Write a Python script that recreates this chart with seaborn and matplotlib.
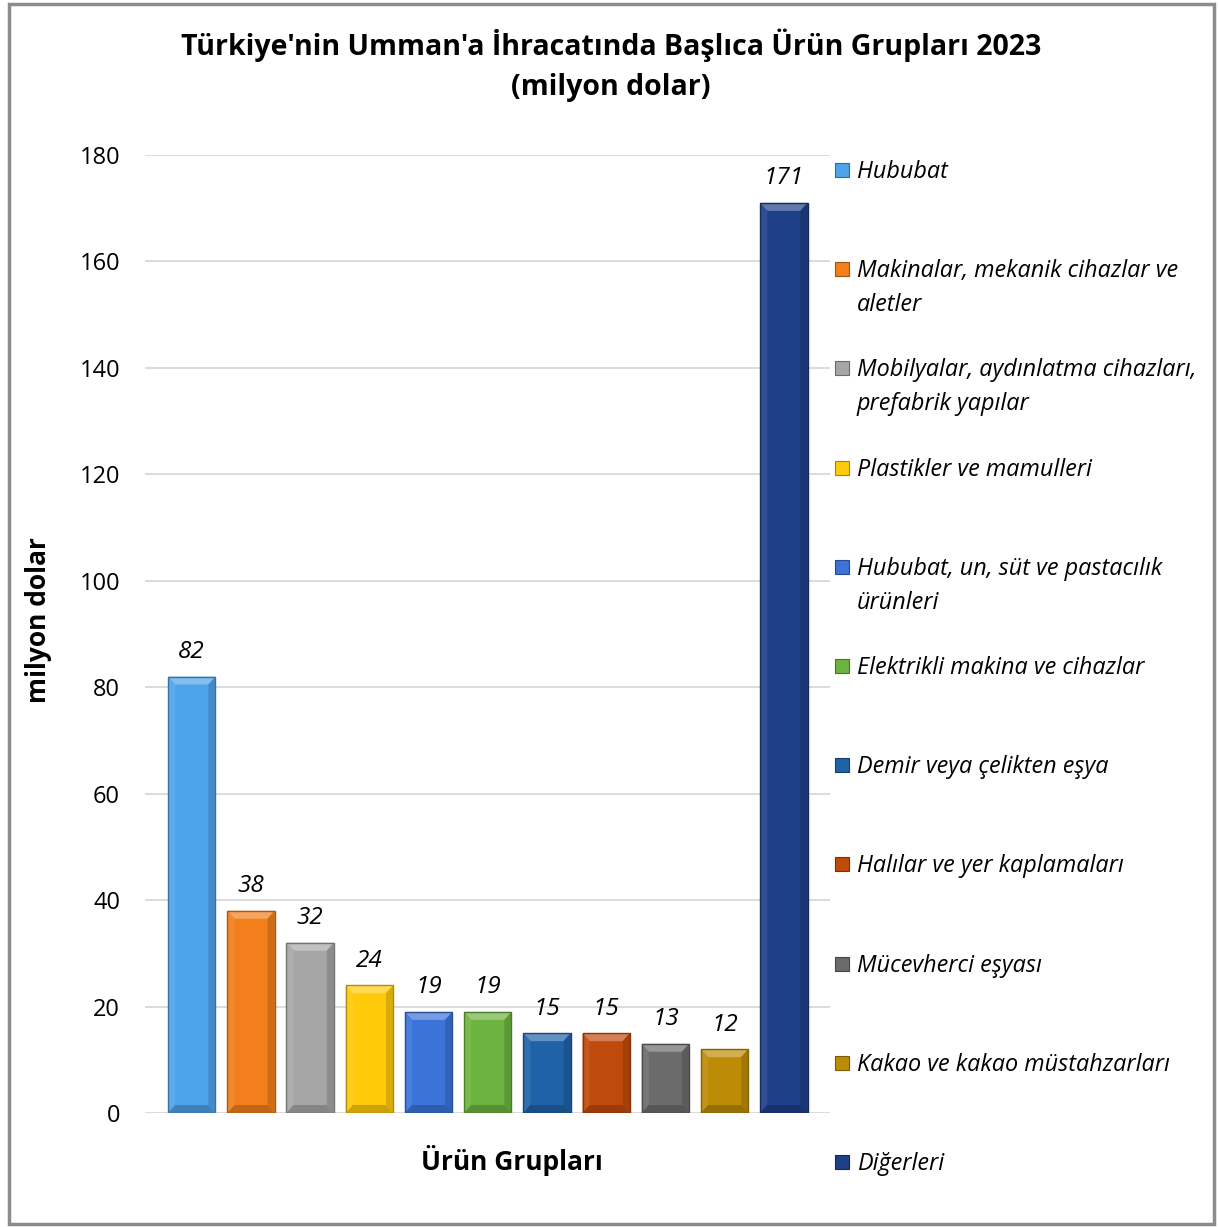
import numpy as np
import pandas as pd
import seaborn as sns
import matplotlib.pyplot as plt
from matplotlib.patches import Polygon, Rectangle
from matplotlib.colors import to_rgb

# data
groups = ["Hububat",
          "Makinalar, mekanik cihazlar ve\naletler",
          "Mobilyalar, aydınlatma cihazları,\nprefabrik yapılar",
          "Plastikler ve mamulleri",
          "Hububat, un, süt ve pastacılık\nürünleri",
          "Elektrikli makina ve cihazlar",
          "Demir veya çelikten eşya",
          "Halılar ve yer kaplamaları",
          "Mücevherci eşyası",
          "Kakao ve kakao müstahzarları",
          "Diğerleri"]
values = [82, 38, 32, 24, 19, 19, 15, 15, 13, 12, 171]
colors = ["#4FA3EA", "#F27F1B", "#A6A6A6", "#FFCA0A", "#3B73D9", "#6DB33F",
          "#1F62A8", "#C04A0B", "#6B6B6B", "#BD8C06", "#1F3F88"]
yticks = list(range(0, 181, 20))

title = "Türkiye'nin Umman'a İhracatında Başlıca Ürün Grupları 2023\n(milyon dolar)"

sns.set_theme(style="white")
plt.rcParams['font.family'] = ['Open Sans', 'DejaVu Sans']
plt.rcParams['text.color'] = 'black'
plt.rcParams['axes.labelcolor'] = 'black'
plt.rcParams['ytick.color'] = 'black'

df = pd.DataFrame({"grup": groups, "deger": values})

fig = plt.figure(figsize=(12.19, 12.27), dpi=100)
ax = fig.add_axes([145/1219, 1 - 1113/1227, 685/1219, 958/1227])

sns.barplot(data=df, x="grup", y="deger", hue="grup", palette=colors,
            saturation=1, dodge=False, legend=False, width=0.8, ax=ax, zorder=3)


def shade(c, f):
    r = np.array(to_rgb(c))
    if f > 0:
        return tuple(r + (1 - r) * f)
    return tuple(r * (1 + f))


# bevel look on the bars
dx, dy = 0.12, 1.5
for p, c in zip(ax.patches, colors):
    x0, w, h = p.get_x(), p.get_width(), p.get_height()
    p.set_edgecolor("none")
    top = [(x0, h), (x0 + w, h), (x0 + w - dx, h - dy), (x0 + dx, h - dy)]
    left = [(x0, 0), (x0, h), (x0 + dx, h - dy), (x0 + dx, dy)]
    right = [(x0 + w, 0), (x0 + w, h), (x0 + w - dx, h - dy), (x0 + w - dx, dy)]
    bottom = [(x0, 0), (x0 + w, 0), (x0 + w - dx, dy), (x0 + dx, dy)]
    ax.add_patch(Polygon(top, closed=True, fc=shade(c, 0.3), ec="none", zorder=4))
    ax.add_patch(Polygon(left, closed=True, fc=shade(c, 0.08), ec="none", zorder=4))
    ax.add_patch(Polygon(right, closed=True, fc=shade(c, -0.15), ec="none", zorder=4))
    ax.add_patch(Polygon(bottom, closed=True, fc=shade(c, -0.2), ec="none", zorder=4))
    ax.add_patch(Rectangle((x0, 0), w, h, fc="none", ec=shade(c, -0.3), lw=1.0, zorder=5))

for i, v in enumerate(values):
    ax.annotate(str(v), (i, v), xytext=(0, 9), textcoords="offset points",
                ha="center", va="bottom", fontsize=17.5, style="italic", color="black")

ax.set_ylim(0, 180)
ax.set_xlim(-0.79, len(values) - 0.22)
ax.set_yticks(yticks)
ax.tick_params(axis="y", labelsize=17, length=0, pad=18)
ax.set_xticks([])
ax.grid(axis="y", color="#D9D9D9", lw=1.3, zorder=0)
for s in ax.spines.values():
    s.set_visible(False)

ax.set_ylabel("milyon dolar", fontsize=19, fontweight="bold")
ax.yaxis.set_label_coords(-(145 - 38) / 685, (1113 - 620) / 958)
ax.yaxis.label.set_va("center")
ax.set_xlabel("Ürün Grupları", fontsize=19, fontweight="bold")
ax.xaxis.set_label_coords((512 - 145) / 685, -(1161 - 1113) / 958)
ax.xaxis.label.set_va("center")

fig.text(611 / 1219, 1 - 65 / 1227, title, ha="center", va="center",
         fontsize=20.5, fontweight="bold", linespacing=1.5)

# legend down the right side
for i, (g, c) in enumerate(zip(groups, colors)):
    yc = 1 - (170 + 99.2 * i) / 1227
    fig.patches.append(Rectangle((835 / 1219, yc - 7 / 1227), 14 / 1219, 14 / 1227,
                                 transform=fig.transFigure, fc=c,
                                 ec=shade(c, -0.35), lw=0.8))
    fig.text(857 / 1219, yc + 10 / 1227, g, ha="left", va="top", fontsize=16.8,
             style="italic", linespacing=1.55)

fig.patches.append(Rectangle((9 / 1219, 3 / 1227), 1205 / 1219, 1220 / 1227,
                             transform=fig.transFigure, fc="none", ec="#8C8C8C", lw=2.5))

fig.savefig("out.png", dpi=100)
